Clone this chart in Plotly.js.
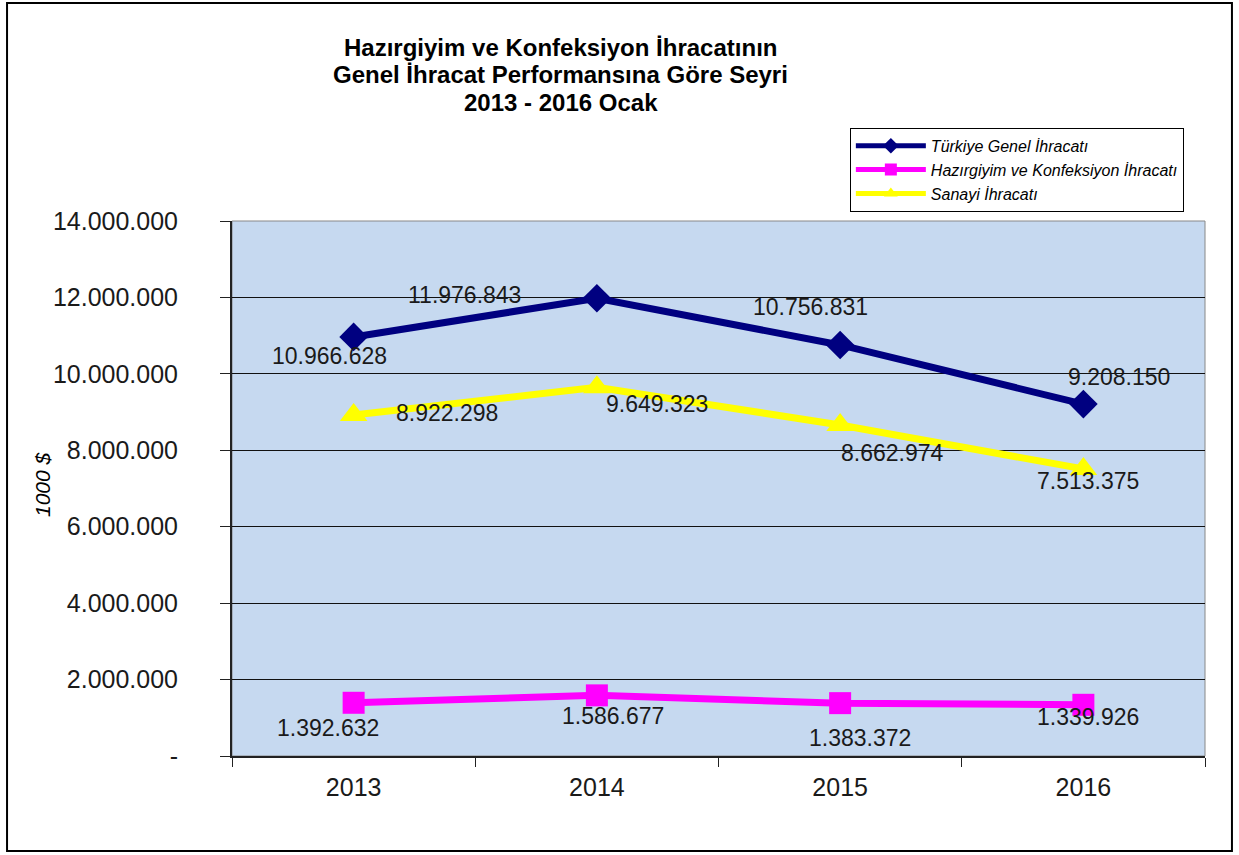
<!DOCTYPE html>
<html>
<head>
<meta charset="utf-8">
<script src="https://cdn.plot.ly/plotly-3.0.1.min.js"></script>
<style>
  html, body { margin: 0; padding: 0; background: #fff; }
  #chart { width: 1239px; height: 855px; }
</style>
</head>
<body>
<div id="chart"></div>
<script>
// ---- data ----
const years = ['2013', '2014', '2015', '2016'];
const seriesNames = ['Türkiye Genel İhracatı', 'Hazırgiyim ve Konfeksiyon İhracatı', 'Sanayi İhracatı'];
const turkiyeGenel = [10966628, 11976843, 10756831, 9208150];
const hazirgiyim = [1392632, 1586677, 1383372, 1339926];
const sanayi = [8922298, 9649323, 8662974, 7513375];
const yTickValues = [0, 2000000, 4000000, 6000000, 8000000, 10000000, 12000000, 14000000];
const yTickLabels = ['-', '2.000.000', '4.000.000', '6.000.000', '8.000.000', '10.000.000', '12.000.000', '14.000.000'];
const titleLines = ['Hazırgiyim ve Konfeksiyon İhracatının', 'Genel İhracat Performansına Göre Seyri', '2013 - 2016 Ocak'];
const yAxisTitle = '1000 $';

// ---- label offsets (pixels) for data labels, per series/point ----
const labelOffsets = {
  turkiye: [[-24, -19], [-132, 3], [-30, 38], [36, 27]],
  hazir:   [[-26, -25], [16, -21], [20, -35], [5, -12]],
  sanayi:  [[93, 2], [60, -17], [52, -28], [5, -12]]
};

function fmt(v) {
  return String(Math.round(v)).replace(/\B(?=(\d{3})+(?!\d))/g, '.');
}

const FONT = 'Arial, "Liberation Sans", sans-serif';

const traces = [
  {
    x: years, y: turkiyeGenel, name: seriesNames[0], type: 'scatter', mode: 'lines+markers',
    line: { color: '#000080', width: 7 },
    marker: { symbol: 'diamond', size: 22, color: '#000080' }
  },
  {
    x: years, y: hazirgiyim, name: seriesNames[1], type: 'scatter', mode: 'lines+markers',
    line: { color: '#FF00FF', width: 7 },
    marker: { symbol: 'square', size: 22, color: '#FF00FF' }
  },
  {
    x: years, y: sanayi, name: seriesNames[2], type: 'scatter', mode: 'lines+markers',
    line: { color: '#FFFF00', width: 7 },
    marker: { symbol: 'triangle-up', size: 24, color: '#FFFF00' }
  }
];

const annotations = [];
function addLabels(vals, offs) {
  vals.forEach((v, i) => {
    annotations.push({
      x: i, y: v, xref: 'x', yref: 'y', text: fmt(v), showarrow: false,
      xshift: offs[i][0], yshift: offs[i][1],
      font: { family: FONT, size: 23, color: '#1a1a1a' }
    });
  });
}
addLabels(turkiyeGenel, labelOffsets.turkiye);
addLabels(hazirgiyim, labelOffsets.hazir);
addLabels(sanayi, labelOffsets.sanayi);

// y axis title
annotations.push({
  xref: 'paper', yref: 'paper', x: -0.195, y: 0.507, text: '<i>' + yAxisTitle + '</i>', textangle: -90,
  showarrow: false, font: { family: FONT, size: 21, color: '#000' }, xanchor: 'center', yanchor: 'middle'
});

// title lines
const titleY = [1.3234, 1.2729, 1.2206];
titleLines.forEach((t, i) => {
  annotations.push({
    xref: 'paper', yref: 'paper', x: 0.338, y: titleY[i], text: '<b>' + t + '</b>',
    showarrow: false, xanchor: 'center', yanchor: 'middle',
    font: { family: FONT, size: 24, color: '#000' }
  });
});

const layout = {
  width: 1239, height: 855,
  margin: { l: 232, r: 34, t: 221, b: 99 },
  paper_bgcolor: '#ffffff',
  plot_bgcolor: '#C6D9F0',
  font: { family: FONT, color: '#1a1a1a' },
  xaxis: {
    type: 'category', range: [-0.5, 3.5],
    showgrid: false, zeroline: false,
    showline: true, linecolor: '#222', linewidth: 2,
    ticks: 'outside', tickson: 'boundaries', ticklen: 9, tickwidth: 1, tickcolor: '#222',
    tickfont: { family: FONT, size: 25, color: '#1a1a1a' },
    ticklabelstandoff: 8
  },
  yaxis: {
    range: [0, 14000000],
    tickvals: yTickValues, ticktext: yTickLabels,
    showgrid: true, gridcolor: '#111', gridwidth: 1,
    zeroline: false,
    showline: true, linecolor: '#222', linewidth: 2,
    ticks: 'outside', ticklen: 10, tickwidth: 1, tickcolor: '#222',
    tickfont: { family: FONT, size: 25, color: '#1a1a1a' },
    ticklabelstandoff: 37
  },
  legend: {
    x: 0.635, y: 1.174, xanchor: 'left', yanchor: 'top',
    bgcolor: '#ffffff', bordercolor: '#000', borderwidth: 1,
    font: { family: FONT, size: 16, color: '#000' },
    itemwidth: 70, itemsizing: 'constant'
  },
  showlegend: true,
  annotations: annotations,
  shapes: [
    { type: 'rect', xref: 'paper', yref: 'paper', x0: 0, x1: 1, y0: 0, y1: 1,
      line: { color: '#888', width: 1 }, layer: 'below' },
    { type: 'rect', xref: 'paper', yref: 'paper', x0: -0.2312, x1: 1.0277, y0: -0.1776, y1: 1.4075,
      line: { color: '#000', width: 2 }, fillcolor: 'rgba(0,0,0,0)' }
  ]
};

Plotly.newPlot('chart', traces, layout, { displayModeBar: false, staticPlot: true }).then(() => {
  document.querySelectorAll('.legendtext').forEach(t => t.style.fontStyle = 'italic');
});
</script>
</body>
</html>
